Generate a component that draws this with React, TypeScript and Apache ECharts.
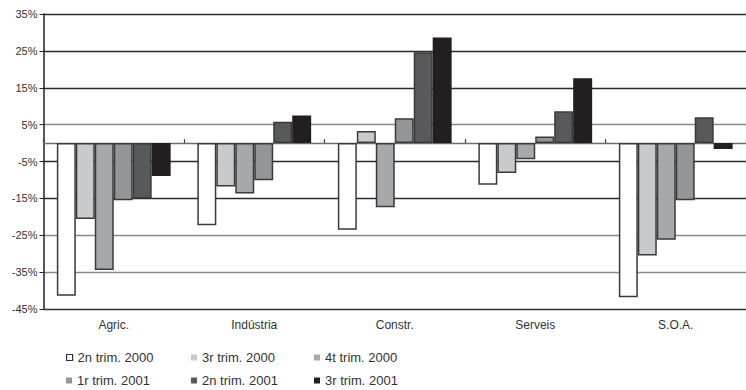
import React, { useEffect, useRef } from "react";
import * as echarts from "echarts";

const categories = ["Agric.", "Indústria", "Constr.", "Serveis", "S.O.A."];
const seriesNames = [
  "2n trim. 2000",
  "3r trim. 2000",
  "4t trim. 2000",
  "1r trim. 2001",
  "2n trim. 2001",
  "3r trim. 2001",
];
const q2_2000 = [-41.4, -22.3, -23.5, -11.3, -41.8];
const q3_2000 = [-20.6, -11.8, 3.3, -8.1, -30.5];
const q4_2000 = [-34.4, -13.7, -17.4, -4.4, -26.2];
const q1_2001 = [-15.5, -10.1, 6.7, 1.8, -15.5];
const q2_2001 = [-15.0, 5.8, 24.6, 8.6, 7.0];
const q3_2001 = [-8.9, 7.5, 28.6, 17.6, -1.6];
const seriesValues = [q2_2000, q3_2000, q4_2000, q1_2001, q2_2001, q3_2001];
const colors = ["#ffffff", "#c9cacc", "#a7a8ab", "#949598", "#58595b", "#231f20"];

const FONT = "'Liberation Sans', Arial, Helvetica, sans-serif";

export default function App() {
  const ref = useRef<HTMLDivElement>(null);
  useEffect(() => {
    if (!ref.current) return;
    const chart = echarts.init(ref.current, undefined, { renderer: "svg" });
    const legendLefts = [61, 186, 309];
    const legendTops = [346, 369];
    const legends = seriesNames.map((name, i) => ({
      left: legendLefts[i % 3],
      top: legendTops[Math.floor(i / 3)],
      itemWidth: 6,
      itemHeight: 6,
      selectedMode: false,
      textStyle: { fontFamily: FONT, fontSize: 13, color: "#333" },
      data: [
        {
          name,
          icon: "rect",
          itemStyle:
            i === 0
              ? { color: "#fff", borderColor: "#333", borderWidth: 1.2 }
              : { color: colors[i], borderWidth: 0 },
        },
      ],
    }));
    const splitColors = [
      "#333", "#8a8a8a", "#8a8a8a", "#2b2b2b", "#2b2b2b",
      "#8a8a8a", "#2b2b2b", "#2b2b2b", "#2b2b2b",
    ];
    chart.setOption({
      animation: false,
      legend: legends,
      grid: { left: 43.5, right: -7.5, top: 14, bottom: 81 },
      xAxis: [
        {
          type: "category",
          data: categories,
          position: "bottom",
          axisLine: { show: false, onZero: false },
          axisTick: { show: false },
          axisLabel: { fontFamily: FONT, fontSize: 12, color: "#333", margin: 10 },
        },
        {
          type: "category",
          data: categories,
          position: "top",
          axisLine: { show: true, onZero: true, lineStyle: { color: "#6e6e6e", width: 1.3 } },
          axisTick: { show: true, length: 4, lineStyle: { color: "#444", width: 1.2 } },
          axisLabel: { show: false },
        },
      ],
      yAxis: {
        type: "value",
        min: -45,
        max: 35,
        interval: 10,
        axisLine: { show: true, lineStyle: { color: "#222", width: 1.5 } },
        axisTick: { show: true, length: 4, lineStyle: { color: "#222" } },
        axisLabel: {
          formatter: "{value}%",
          fontFamily: FONT,
          fontSize: 11,
          color: "#333",
          margin: 6,
        },
        splitLine: { show: true, lineStyle: { color: splitColors, width: 1.3 } },
      },
      series: seriesNames.map((name, i) => ({
        name,
        type: "bar",
        xAxisIndex: 0,
        data: seriesValues[i],
        barGap: "0%",
        barCategoryGap: "19%",
        itemStyle: {
          color: colors[i],
          borderColor: i === 5 ? "#231f20" : "#3a3a3a",
          borderWidth: 1.5,
        },
      })),
    });
    return () => chart.dispose();
  }, []);
  return (
    <div
      ref={ref}
      style={{ position: "fixed", left: 0, top: 0, width: 746, height: 390, background: "#fff" }}
    />
  );
}
